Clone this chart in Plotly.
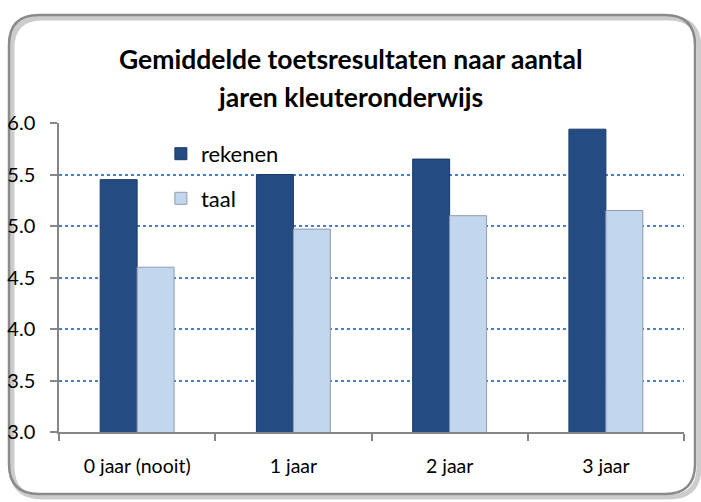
import plotly.graph_objects as go

categories = ["0 jaar (nooit)", "1 jaar", "2 jaar", "3 jaar"]
rekenen = [5.45, 5.50, 5.65, 5.94]
taal = [4.60, 4.97, 5.10, 5.15]
y_ticks = [3.0, 3.5, 4.0, 4.5, 5.0, 5.5, 6.0]
title_lines = ["Gemiddelde toetsresultaten naar aantal", "jaren kleuteronderwijs"]

FONT = "Lato"

fig = go.Figure()
fig.add_trace(go.Bar(
    x=categories, y=rekenen, name="rekenen", legendgroup="a",
    marker=dict(color="#244C82", line=dict(color="#1A3A66", width=1)),
))
fig.add_trace(go.Bar(
    x=categories, y=taal, name="taal", legendgroup="b",
    marker=dict(color="#C2D6EE", line=dict(color="#8E9CAD", width=1)),
))

# rounded frame (pixel coordinates relative to plot-area bottom-left)
def rrect(x0, y0, x1, y1, r):
    return (f"M{x0+r},{y1} L{x1-r},{y1} Q{x1},{y1} {x1},{y1-r} "
            f"L{x1},{y0+r} Q{x1},{y0} {x1-r},{y0} L{x0+r},{y0} "
            f"Q{x0},{y0} {x0},{y0+r} L{x0},{y1-r} Q{x0},{y1} {x0+r},{y1} Z")

common = dict(type="path", xref="paper", yref="paper", xanchor=0, yanchor=0,
              xsizemode="pixel", ysizemode="pixel", layer="below")
fig.add_shape(path=rrect(-47, -65, 640, 414, 30),
              line=dict(color="rgba(0,0,0,0.2)", width=5), **common)
fig.add_shape(path=rrect(-50, -62, 636, 417, 30),
              line=dict(color="#8A8A8A", width=2.5), **common)

fig.add_annotation(text=f"<b>{title_lines[0]}</b>", xref="paper", yref="paper",
                   x=0.467, y=1.208, xanchor="center", yanchor="middle",
                   showarrow=False, font=dict(family=FONT, size=26.5, color="#000"))
fig.add_annotation(text=f"<b>{title_lines[1]}</b>", xref="paper", yref="paper",
                   x=0.467, y=1.085, xanchor="center", yanchor="middle",
                   showarrow=False, font=dict(family=FONT, size=26.5, color="#000"))

fig.update_layout(
    width=701, height=502,
    margin=dict(l=59, r=17, t=123, b=70, autoexpand=False),
    paper_bgcolor="white", plot_bgcolor="rgba(0,0,0,0)",
    barmode="group", bargap=0.527, bargroupgap=0.0,
    font=dict(family=FONT, size=19.5, color="#000"),
    legend=dict(x=0.163, y=0.968, xanchor="left", yanchor="top",
                font=dict(family=FONT, size=22), bgcolor="rgba(0,0,0,0)",
                tracegroupgap=13, traceorder="grouped"),
    xaxis=dict(showline=True, linecolor="#868686", linewidth=1.5,
               ticks="outside", ticklen=7, tickcolor="#868686", tickwidth=1.5,
               tickson="boundaries", ticklabelstandoff=16, automargin=False,
               tickfont=dict(family=FONT, size=19.5)),
    yaxis=dict(range=[3, 6], tickvals=y_ticks, tickformat=".1f",
               showline=True, linecolor="#868686", linewidth=1.5,
               ticks="outside", ticklen=7, tickcolor="#868686", tickwidth=1.5,
               showgrid=True, gridcolor="#4A7EC0", gridwidth=1.5, griddash="dot",
               zeroline=False, ticklabelstandoff=11, automargin=False,
               tickfont=dict(family=FONT, size=20)),
)

fig.write_html("out.html", post_script="document.body.style.margin='0';",
               config={"displayModeBar": False})
